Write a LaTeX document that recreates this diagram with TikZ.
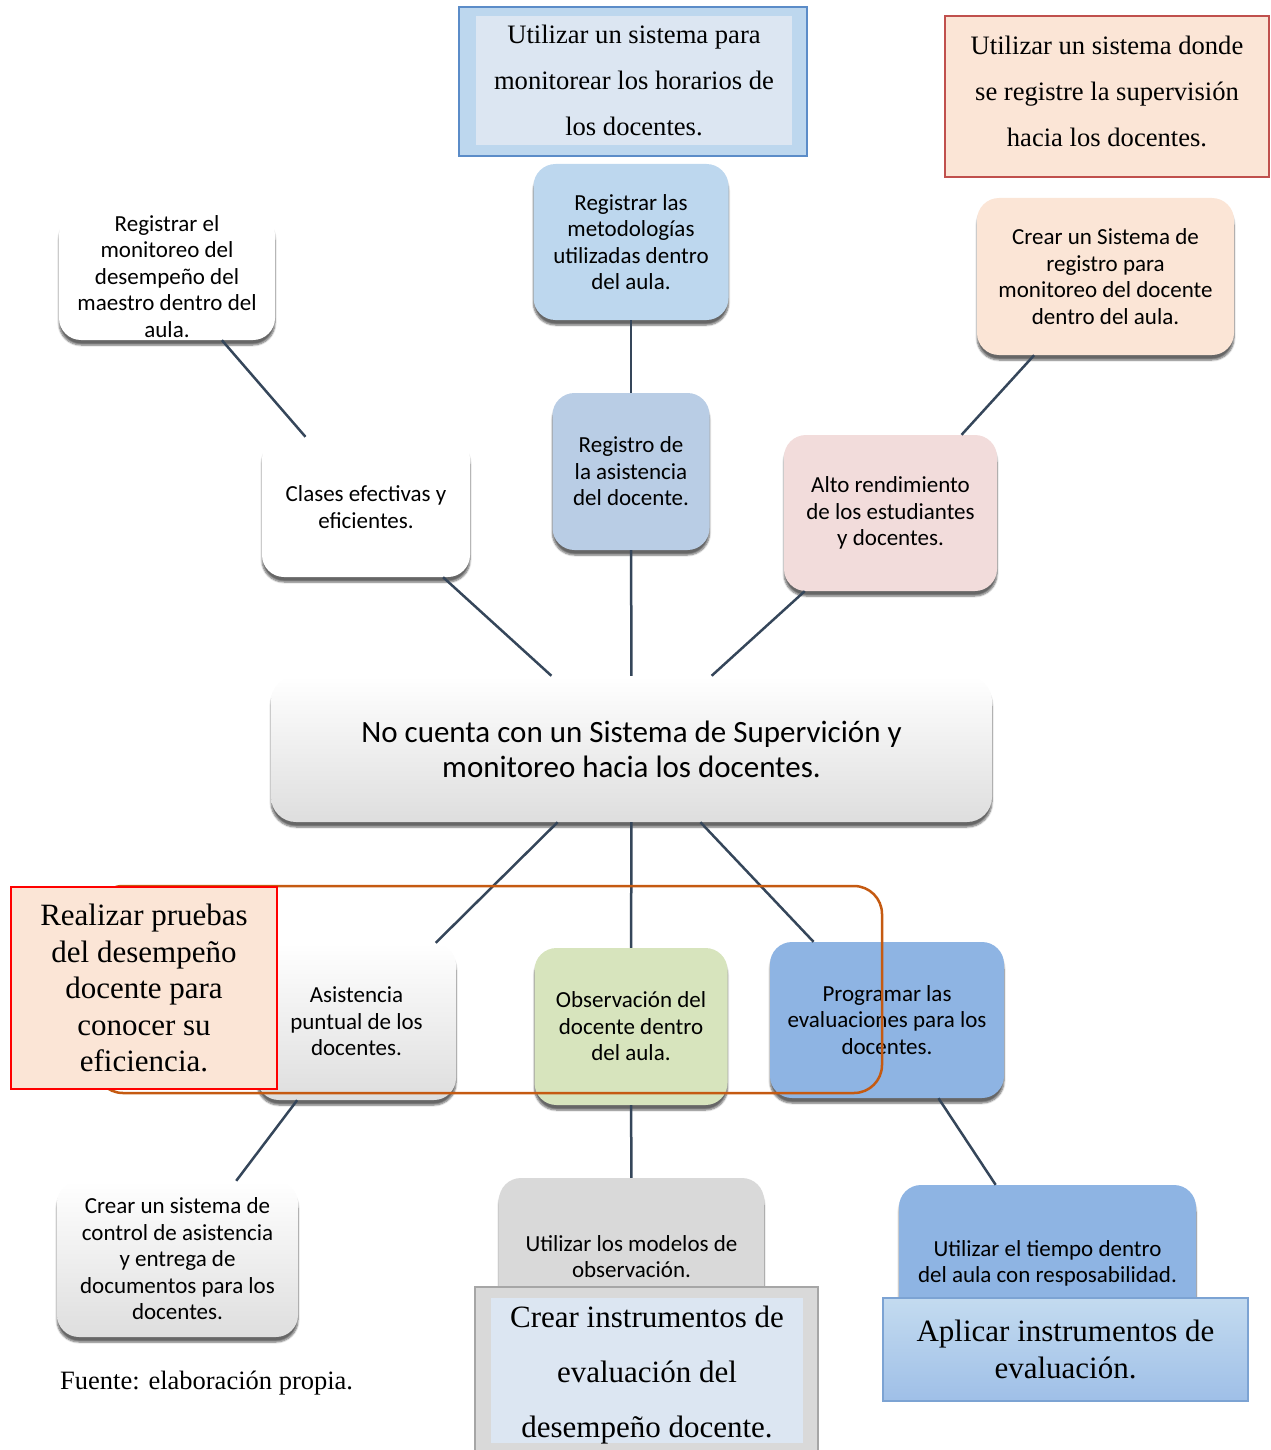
\documentclass[tikz,border=0pt]{standalone}
\usepackage{fontspec}
\setmainfont{Liberation Serif}
\newfontfamily\carlito{Carlito}
\usetikzlibrary{shadows.blur}

\definecolor{azulclaro}{HTML}{BDD7EE}
\definecolor{azulreg}{HTML}{B9CDE5}
\definecolor{azulprog}{HTML}{8EB4E3}
\definecolor{azulpalido}{HTML}{DCE6F2}
\definecolor{bordeazul}{HTML}{5B8CC8}
\definecolor{rosa}{HTML}{F2DCDB}
\definecolor{durazno}{HTML}{FBE5D6}
\definecolor{rojoborde}{HTML}{C0504D}
\definecolor{verdeobs}{HTML}{D7E4BD}
\definecolor{grismod}{HTML}{D9D9D9}
\definecolor{grisborde}{HTML}{A6A6A6}
\definecolor{naranja}{HTML}{C55A11}
\definecolor{tinta}{HTML}{35465A}

\begin{document}
\begin{tikzpicture}[x=1pt,y=-1pt,
  caja/.style={rectangle, rounded corners=22pt, align=center, inner sep=0pt,
    font=\carlito\fontsize{23}{26.5}\selectfont,
    blur shadow={shadow xshift=0pt, shadow yshift=-5pt, shadow opacity=60, shadow blur steps=6}},
  degradado/.style={top color=white, middle color=white, bottom color=black!13},
  marco/.style={rectangle, inner sep=0pt, align=center, font=\fontsize{26.6}{46}\selectfont},
  linea/.style={draw=tinta, line width=2.5pt}]
% \draw [help lines] (0,0) grid (1270,1450) ;
\useasboundingbox (0,0) rectangle (1270,1450);

% cuadros de arriba
\node[marco, fill=azulclaro, draw=bordeazul, line width=1.5pt, minimum width=348, minimum height=149] (horariosmarco) at (633,81.5) {};
\node[marco, fill=azulpalido, minimum width=316, minimum height=129] (horarios) at (634,80.5)
  {Utilizar un sistema para\\monitorear los horarios de\\los docentes.};
\node[marco, fill=durazno, draw=rojoborde, line width=1.5pt, minimum width=324, minimum height=161] (supervisionmarco) at (1107,96.5) {};
\node[marco] (supervision) at (1107,91)
  {Utilizar un sistema donde\\se registre la supervisión\\hacia los docentes.};

% causas
\node[caja, fill=azulclaro, minimum width=195, minimum height=156] (metodologias) at (631,242)
  {Registrar las\\metodologías\\utilizadas dentro\\del aula.};
\node[caja, fill=white, minimum width=216, minimum height=127] (monitoreo) at (167,276.5)
  {Registrar el\\monitoreo del\\desempeño del\\maestro dentro del\\aula.};
\node[caja, fill=durazno, minimum width=257, minimum height=157] (sistreg) at (1105.5,276.5)
  {Crear un Sistema de\\registro para\\monitoreo del docente\\dentro del aula.};
\node[caja, fill=white, minimum width=208, minimum height=140] (clases) at (366,507)
  {Clases efectivas y\\eficientes.};
\node[caja, fill=azulreg, minimum width=157, minimum height=157] (registro) at (631,471.5)
  {Registro de\\la asistencia\\del docente.};
\node[caja, fill=rosa, minimum width=213, minimum height=156] (alto) at (890.5,513)
  {Alto rendimiento\\de los estudiantes\\y docentes.};

% problema central
\node[caja, degradado, rounded corners=25pt, minimum width=721, minimum height=146,
  font=\carlito\fontsize{31}{35}\selectfont] (problema) at (631.5,749)
  {No cuenta con un Sistema de Supervición y\\monitoreo hacia los docentes.};

% efectos
\node[caja, degradado, minimum width=199, minimum height=157] (asistencia) at (356.5,1021.5)
  {Asistencia\\puntual de los\\docentes.};
\node[caja, fill=verdeobs, minimum width=193, minimum height=157] (observacion) at (631,1026.5)
  {Observación del\\docente dentro\\del aula.};
\node[caja, fill=azulprog, minimum width=234, minimum height=156] (programar) at (887,1020)
  {Programar las\\evaluaciones para los\\docentes.};
\node[caja, degradado, minimum width=241, minimum height=156] (control) at (177.5,1259)
  {Crear un sistema de\\control de asistencia\\y entrega de\\documentos para los\\docentes.};
\node[caja, fill=grismod, minimum width=265, minimum height=157] (modelos) at (631.5,1256.5)
  {Utilizar los modelos de\\observación.};
\node[caja, fill=azulprog, minimum width=297, minimum height=157] (tiempo) at (1047.5,1263.5)
  {Utilizar el tiempo dentro\\del aula con resposabilidad.};

% conectores
\draw[linea] (metodologias) -- (registro);
\draw[linea] (registro) -- (problema);
\draw[linea] (monitoreo) -- (clases);
\draw[linea] (clases) -- (problema);
\draw[linea] (sistreg) -- (alto);
\draw[linea] (alto) -- (problema);
\draw[linea] (problema) -- (asistencia);
\draw[linea] (problema) -- (observacion);
\draw[linea] (problema) -- (programar);
\draw[linea] (asistencia) -- (control);
\draw[linea] (observacion) -- (modelos);
\draw[linea] (programar) -- (tiempo);

\draw[naranja, line width=2.5pt, rounded corners=28pt] (95,886) rectangle (882,1093);

% cuadros de abajo
\node[marco, fill=durazno, draw=red, line width=1.5pt, minimum width=266, minimum height=202,
  font=\fontsize{31}{36.5}\selectfont] (pruebas) at (144,988)
  {Realizar pruebas\\del desempeño\\docente para\\conocer su\\eficiencia.};
\node[marco, fill=grismod, draw=grisborde, line width=1.5pt, minimum width=343, minimum height=172] (instrmarco) at (646.5,1373) {};
\node[marco, fill=azulpalido, minimum width=312, minimum height=145] (instrfondo) at (647,1370.5) {};
\node[marco, font=\fontsize{31}{55}\selectfont] (instrumentos) at (647,1375.5)
  {Crear instrumentos de\\evaluación del\\desempeño docente.};
\node[marco, top color=azulclaro!90!white, bottom color=azulprog!85!white, draw=bordeazul!80!white, line width=1.2pt,
  minimum width=365, minimum height=103, font=\fontsize{31}{36.5}\selectfont] (aplicar) at (1065.5,1349.5)
  {Aplicar instrumentos de\\evaluación.};

\node[anchor=west, inner sep=0pt, font=\fontsize{26.5}{30}\selectfont] (fuente) at (60,1383) {Fuente: elaboración propia.};
\end{tikzpicture}
\end{document}
